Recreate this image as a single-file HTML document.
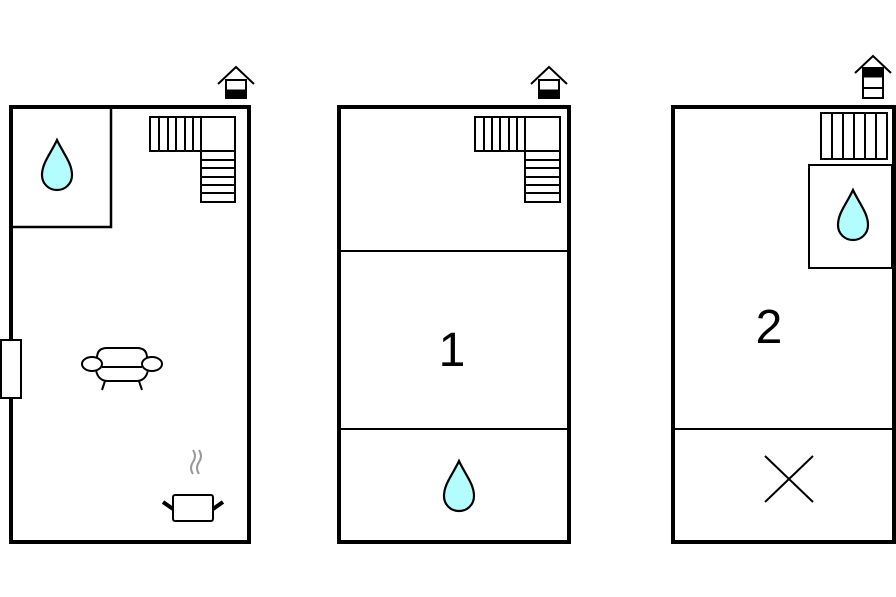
<!DOCTYPE html>
<html><head><style>html,body{margin:0;padding:0;background:#fff}svg{display:block}</style></head><body>
<svg width="896" height="597" viewBox="0 0 896 597" xmlns="http://www.w3.org/2000/svg">
<defs>
<path id="drop" d="M0,-25 C6,-12 15,-2 15,10 C15,19 8,25 0,25 C-8,25 -15,19 -15,10 C-15,-2 -6,-12 0,-25Z" fill="#b3fdff" stroke="#000" stroke-width="2.2"/>
</defs>
<g fill="none" stroke="#000">
<!-- Plan 1 -->
<rect x="11" y="107" width="238" height="435" stroke-width="4"/>
<rect x="11" y="107" width="100" height="120" stroke-width="2.5"/>
<rect x="1" y="340" width="20" height="58" fill="#fff" stroke-width="2"/>
<g stroke-width="2">
<rect x="150" y="117" width="85" height="34"/>
<rect x="201" y="151" width="34" height="51"/>
<path d="M159,117V151M168,117V151M176,117V151M185,117V151M193,117V151M201,117V151M201,160H235M201,168H235M201,177H235M201,185H235M201,193H235"/>
</g>
<!-- house 1 -->
<path d="M218,84 L236,67 L254,84" stroke-width="2"/>
<rect x="226" y="80" width="20" height="18" stroke-width="2"/>
<rect x="226" y="90" width="20" height="8" fill="#000"/>
<!-- sofa -->
<g stroke-width="2">
<path d="M97,358 Q97,348 107,348 H137 Q147,348 147,358"/>
<ellipse cx="92" cy="364" rx="10" ry="7" fill="#fff"/>
<ellipse cx="152" cy="364" rx="10" ry="7" fill="#fff"/>
<path d="M102,367 H142 M96,370 Q98,381 108,381 H136 Q146,381 148,370 M105,381 L102,390 M139,381 L142,390"/>
</g>
<!-- pot -->
<path d="M193,474 Q189,468 193,462 Q197,456 193,450 M199,474 Q195,468 199,462 Q203,456 199,450" stroke="#999" stroke-width="2"/>
<rect x="173" y="495" width="40" height="26" rx="2" stroke-width="2"/>
<path d="M163,502 L173,509 M223,502 L213,509" stroke-width="4"/>
<!-- Plan 2 -->
<rect x="339" y="107" width="230" height="435" stroke-width="4"/>
<path d="M339,251H569M339,429H569" stroke-width="2"/>
<g stroke-width="2">
<rect x="475" y="117" width="85" height="34"/>
<rect x="525" y="151" width="35" height="51"/>
<path d="M484,117V151M492,117V151M500,117V151M509,117V151M517,117V151M525,117V151M525,160H560M525,168H560M525,177H560M525,185H560M525,193H560"/>
</g>
<path d="M531,84 L549,67 L567,84" stroke-width="2"/>
<rect x="539" y="80" width="20" height="18" stroke-width="2"/>
<rect x="539" y="90" width="20" height="8" fill="#000"/>
<!-- Plan 3 -->
<rect x="673" y="107" width="221" height="435" stroke-width="4"/>
<path d="M673,429H894" stroke-width="2"/>
<rect x="809" y="165" width="83" height="103" stroke-width="2"/>
<g stroke-width="2">
<rect x="821" y="113" width="66" height="46"/>
<path d="M832,113V159M843,113V159M854,113V159M865,113V159M876,113V159"/>
</g>
<path d="M855,73 L873,56 L891,73" stroke-width="2"/>
<rect x="863" y="68" width="20" height="30" stroke-width="2"/>
<rect x="863" y="68" width="20" height="9" fill="#000"/>
<path d="M863,88H883" stroke-width="2"/>
<path d="M765,456 L813,502 M813,456 L765,502" stroke-width="2"/>
</g>
<use href="#drop" x="57" y="165"/>
<use href="#drop" x="459" y="486"/>
<use href="#drop" x="853" y="215"/>
<g font-family="Liberation Sans, sans-serif" font-size="48" text-anchor="middle" fill="#000">
<text x="452" y="366">1</text>
<text x="769" y="343">2</text>
</g>
</svg>
</body></html>
